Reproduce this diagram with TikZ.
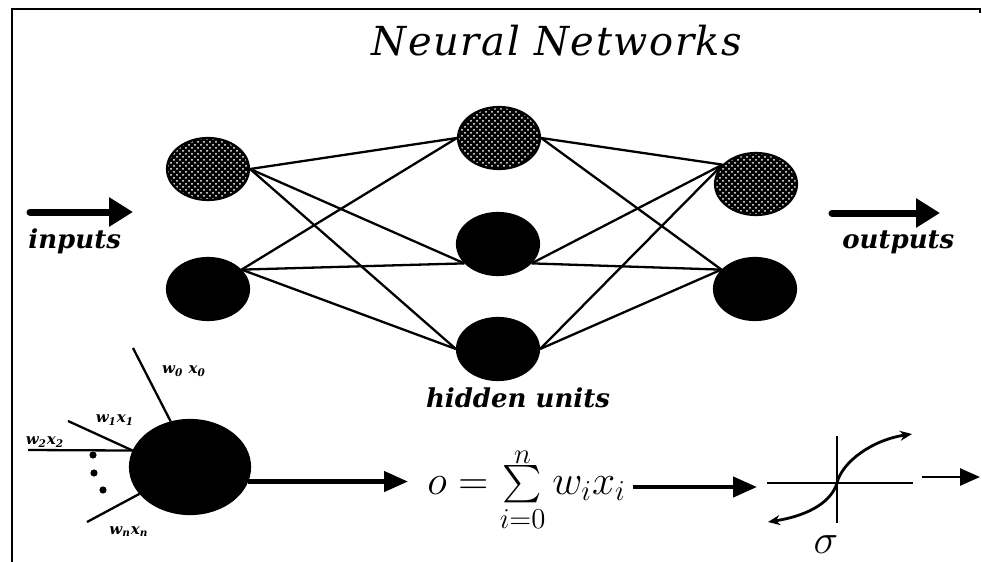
\documentclass[tikz,border=0pt]{standalone}
\usepackage{amsmath}
\usepackage{graphicx}
\usepackage{fontspec}
\setmainfont{DejaVu Serif}
\usetikzlibrary{arrows.meta, shapes.geometric, positioning, patterns}

\tikzset{
  unit/.style={ellipse, draw=black, line width=1.1pt, inner sep=0pt,
    minimum width=41pt, minimum height=31pt},
  speckled/.style={unit, preaction={fill=black}, pattern=crosshatch dots,
    pattern color=white},
  solidunit/.style={unit, fill=black},
  link/.style={line width=1.15pt},
  wlabel/.style={font=\fontsize{7.5}{8}\selectfont\bfseries\itshape, inner sep=0pt},
  flowlabel/.style={font=\fontsize{13}{15}\selectfont\bfseries\itshape, inner sep=0pt},
  fatarrow/.style={line width=3.5pt, line cap=round,
    -{Triangle[length=12pt,width=14pt]}},
  midarrow/.style={line width=2.2pt, -{Triangle[length=12pt,width=10pt]}},
  thinarrow/.style={line width=1.3pt, -{Triangle[length=10pt,width=8.5pt]}},
  sigline/.style={line width=1.4pt},
}
\newcommand{\smallsum}{\mathop{\vcenter{\hbox{\scalebox{0.9}{$\sum$}}}}}

\begin{document}
\begin{tikzpicture}[x=0.5pt, y=-0.5pt]
  \useasboundingbox (0,0) rectangle (982,562);
  % Frame
  \draw[line width=1.2pt] (12,562) -- (12,9) -- (980,9) -- (980,13);
  % Title
  \node (title) [font=\fontsize{20}{24}\selectfont\itshape] at (557,41)
    {\addfontfeature{LetterSpace=4}Neural Networks};

  % Units
  \node (in1) [speckled] at (208,169) {};
  \node (in2) [solidunit] at (208,289) {};
  \node (h1) [speckled] at (499,138) {};
  \node (h2) [solidunit] at (498,244) {};
  \node (h3) [solidunit] at (498,349) {};
  \node (out1) [speckled] at (756,184) {};
  \node (out2) [solidunit] at (755,289) {};

  % Links
  \foreach \a in {in1.east, in2.30}
    \foreach \b in {h1.west, h2.210, h3.west}
      \draw[link] (\a) -- (\b);
  \foreach \a in {h1.east, h2.330, h3.east}
    \foreach \b in {out1.150, out2.150}
      \draw[link] (\a) -- (\b);

  % Inputs / outputs
  \coordinate (inStart) at (30,212);
  \coordinate (inEnd) at (133,212);
  \draw[fatarrow] (inStart) -- (inEnd);
  \node (inputs) [flowlabel, anchor=base west] at (28,248) {inputs};
  \coordinate (outStart) at (832,213);
  \coordinate (outEnd) at (940,213);
  \draw[fatarrow] (outStart) -- (outEnd);
  \node (outputs) [flowlabel, anchor=base west] at (842,248) {outputs};
  \node (hidden) [flowlabel, below=3pt of h3, xshift=10pt] {hidden units};

  % Single neuron
  \node (neuron) [solidunit, minimum width=60pt, minimum height=47pt] at (190,467) {};
  \coordinate (w0end) at (133,348);
  \coordinate (w1end) at (68,421);
  \coordinate (w2end) at (28,450);
  \coordinate (wnend) at (87,522);
  \draw[link] (w0end) -- (neuron.113);
  \draw[link] (w1end) -- (neuron.164);
  \draw[link] (w2end) -- (neuron.164);
  \draw[link] (wnend) -- (neuron.208);
  \node (w0) [wlabel] at (184,371) {w\textsubscript{0} x\textsubscript{0}};
  \node (w1) [wlabel] at (115,420) {w\textsubscript{1}x\textsubscript{1}};
  \node (w2) [wlabel] at (45,442) {w\textsubscript{2}x\textsubscript{2}};
  \node (wn) [wlabel] at (129,532) {w\textsubscript{n}x\textsubscript{n}};
  \fill (93,455) circle[radius=1.8pt];
  \fill (94,473) circle[radius=1.8pt];
  \fill (103,490) circle[radius=1.8pt];

  % Weighted sum
  \node (sum) [anchor=west, inner sep=0pt, font=\fontsize{20}{24}\selectfont]
    at (427,493)
    {$o = \smallsum\limits_{i=0}^{\smash{\raisebox{-3pt}{$\scriptstyle n$}}} w_i x_i$};
  \draw[midarrow, shorten >=9.5pt] (neuron.-14) -- (neuron.-14 -| sum.west);

  % Sigmoid
  \coordinate (sig) at (837,483);
  \coordinate (sigin) at (757,487);
  \draw[midarrow] ([xshift=3.5pt]sum.east |- sigin) -- (sigin);
  \draw[sigline] (sig) ++(-70,0) -- ++(146,0);
  \draw[sigline] (sig) ++(0,-47) -- ++(0,87);
  \draw[sigline, {Stealth[length=6pt,width=5pt]}-{Stealth[length=6pt,width=5pt]}]
    (768,522) .. controls (812,515) and (832,500) .. (sig)
    .. controls (842,462) and (872,440) .. (912,434);
  \node (sigma) [font=\fontsize{20}{22}\selectfont] at (826,545) {$\sigma$};
  \coordinate (sigout) at (922,477);
  \coordinate (finalEnd) at (980,477);
  \draw[thinarrow] (sigout) -- (finalEnd);
\end{tikzpicture}
\end{document}
